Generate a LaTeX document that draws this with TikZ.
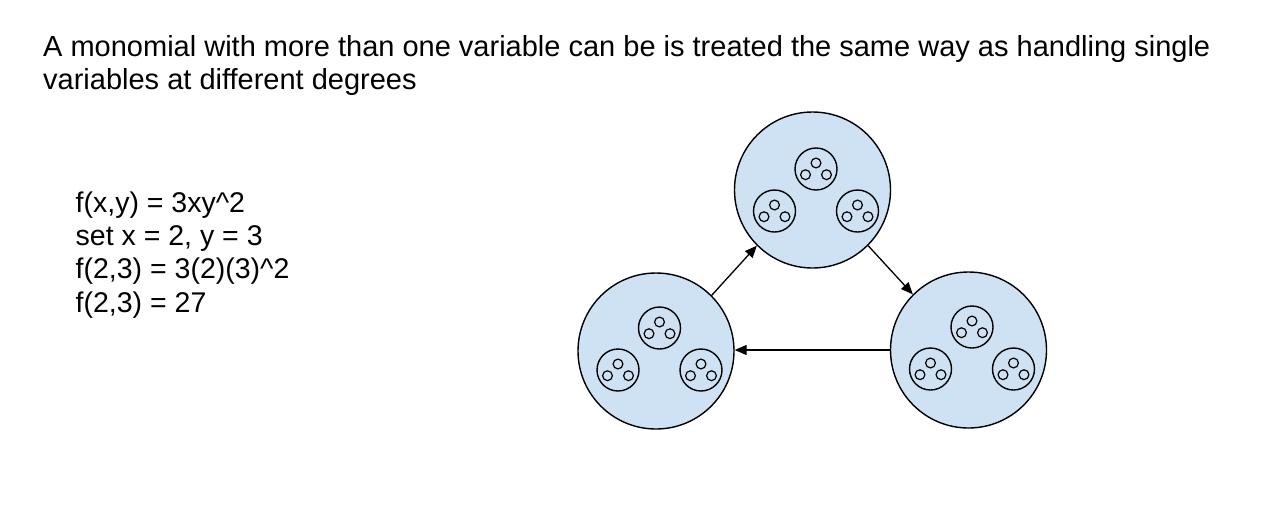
\documentclass[tikz,border=0pt]{standalone}
\usepackage{fontspec}
\setmainfont{Liberation Sans}
\usetikzlibrary{arrows.meta}
\definecolor{cblue}{HTML}{CFE2F3}
\newcommand\drawcluster[3]{%
  \node[inner] (#1-t) at (#2+3.5,#3-23) {};
  \node[inner] (#1-l) at (#2-38,#3+19) {};
  \node[inner] (#1-r) at (#2+45,#3+19) {};
  \foreach \k in {t,l,r}{
    \node[dot] (#1-\k-a) at ([yshift=6pt]#1-\k.center) {};
    \node[dot] (#1-\k-b) at ([xshift=-10.5pt,yshift=-5.7pt]#1-\k.center) {};
    \node[dot] (#1-\k-c) at ([xshift=10.5pt,yshift=-5.7pt]#1-\k.center) {};
  }%
}
\begin{document}
\begin{tikzpicture}[x=1pt,y=-1pt,
  big/.style={circle,draw,fill=cblue,line width=1.4pt,minimum size=156pt,inner sep=0pt},
  inner/.style={circle,draw,line width=1.4pt,minimum size=42pt,inner sep=0pt},
  dot/.style={circle,draw,line width=1.2pt,minimum size=9.8pt,inner sep=0pt},
  conn/.style={line width=1.3pt,-{Triangle[length=12pt,width=10pt]}},
  title/.style={anchor=base west,inner sep=0pt,font=\fontsize{29}{32}\selectfont},
  eq/.style={anchor=base west,inner sep=0pt,font=\fontsize{28.5}{32}\selectfont}]
\useasboundingbox[fill=white] (0,0) rectangle (1279,523);
\node[title] (t1) at (43,56.7) {A monomial with more than one variable can be is treated the same way as handling single};
\node[title] (t2) at (43,89) {variables at different degrees};
\node[eq] (e1) at (75.5,212) {f(x,y) = 3xy\^{}2};
\node[eq] (e2) at (75.5,245.3) {set x = 2, y = 3};
\node[eq] (e3) at (75.5,278.6) {f(2,3) = 3(2)(3)\^{}2};
\node[eq] (e4) at (75.5,312) {f(2,3) = 27};
\node[big] (top) at (812.5,190) {};
\node[big] (bl) at (656,351) {};
\node[big] (br) at (968.5,350) {};
\drawcluster{top}{812.5}{192}
\drawcluster{bl}{656}{351}
\drawcluster{br}{968.5}{350}
\draw[conn] (bl.45) -- (top.225);
\draw[conn] (top.-45) -- (br.135);
\draw[conn] (br.west) -- (br.west -| bl.east);
\end{tikzpicture}
\end{document}
